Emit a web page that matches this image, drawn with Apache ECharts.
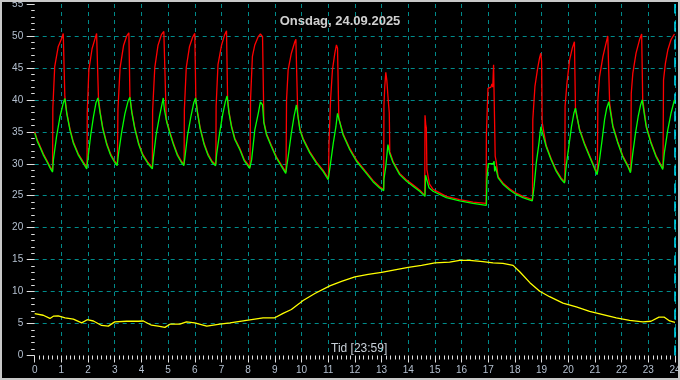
<!DOCTYPE html>
<html>
<head>
<meta charset="utf-8">
<script src="https://cdn.jsdelivr.net/npm/echarts@6/dist/echarts.min.js"></script>
<style>
html,body{margin:0;padding:0;background:#000;}
#chart{width:680px;height:380px;}
</style>
</head>
<body>
<div id="chart"></div>
<script>
const titleText = 'Onsdag, 24.09.2025';
const xName = 'Tid [23:59]';
const yName = '° C';
const nowHour = 23.98;

// Red series [hour, °C]
const redData = [
[0,35.0],[0.1,33.7],[0.2,32.8],[0.32,31.6],[0.45,30.6],[0.57,29.6],[0.67,28.9],
[0.68,38.7],[0.75,45.2],[0.88,48.3],[1.01,49.6],[1.07,50.4],[1.11,50.4],[1.13,40.5],[1.2,38.1],[1.32,35.5],[1.45,33.4],[1.63,31.6],[1.82,30.3],[1.96,29.4],
[1.97,38],[2.03,44.7],[2.15,48],[2.27,49.7],[2.32,50.4],[2.36,50.2],[2.39,40.3],[2.45,38.2],[2.55,35.7],[2.7,33.2],[2.85,31.5],[3.0,30.4],[3.1,29.9],
[3.12,38.5],[3.2,45],[3.33,48.5],[3.45,50],[3.53,50.5],[3.55,50.3],[3.57,40.4],[3.64,38.2],[3.75,35.7],[3.9,33.2],[4.05,31.5],[4.25,30.2],[4.41,29.4],
[4.42,38.3],[4.5,45],[4.62,48.5],[4.75,50.2],[4.84,50.7],[4.9,50.4],[4.93,37],[4.95,36.7],[5.05,35.2],[5.2,33.2],[5.35,31.5],[5.5,30.4],[5.6,29.9],
[5.61,38.5],[5.68,45],[5.8,48.3],[5.92,49.8],[6.0,50.4],[6.02,50.3],[6.04,40.2],[6.1,38.2],[6.2,35.7],[6.35,33.2],[6.5,31.5],[6.65,30.4],[6.79,29.9],
[6.8,39],[6.87,45.5],[7.0,48.5],[7.12,50.2],[7.19,50.8],[7.21,50.5],[7.23,40.2],[7.28,38.2],[7.38,35.9],[7.5,34],[7.69,32.4],[7.85,30.7],[8.07,29.5],
[8.09,40],[8.16,46.8],[8.25,48.6],[8.38,49.9],[8.46,50.3],[8.54,49.9],[8.59,36.6],[8.69,34.7],[8.87,32.9],[9.06,31.1],[9.25,29.8],[9.42,28.7],
[9.44,40],[9.5,44.7],[9.62,47.3],[9.75,49.1],[9.79,49.5],[9.84,49.3],[9.86,37.6],[9.94,35.5],[10.06,34],[10.31,31.9],[10.56,30.3],[10.81,29.0],[11.01,27.7],
[11.03,33],[11.09,40],[11.16,44.7],[11.25,47.3],[11.31,48.6],[11.35,48.1],[11.4,37.1],[11.56,34.7],[11.81,32.4],[12.06,30.6],[12.37,29.0],[12.68,27.4],[12.93,26.4],[13.08,26.0],
[13.09,39],[13.12,42],[13.16,44.3],[13.2,43],[13.25,40],[13.29,38],[13.31,31.9],[13.43,30.4],[13.68,28.5],[13.93,27.5],[14.18,26.7],[14.43,25.9],[14.62,25.1],
[14.63,37.6],[14.66,36],[14.68,35.6],[14.7,29.1],[14.8,26.8],[14.93,26.0],[15.43,24.9],[15.93,24.4],[16.43,24.0],[16.92,23.8],
[16.93,34.5],[16.99,41.8],[17.1,42.0],[17.14,42.5],[17.17,42],[17.2,45.5],[17.24,45.5],[17.26,31.2],[17.3,30.3],[17.37,28.0],[17.55,27.0],[17.8,26.1],[18.05,25.4],[18.3,24.9],[18.66,24.4],
[18.67,36.9],[18.75,42.1],[18.85,44.9],[18.92,46.5],[18.97,47.3],[19.0,46],[19.02,36.5],[19.17,32.9],[19.36,30.8],[19.55,29.0],[19.73,27.8],[19.87,27.2],
[19.88,39],[19.95,42.6],[20.05,46.25],[20.15,48.1],[20.23,49.1],[20.26,49],[20.27,38.4],[20.42,35.5],[20.61,33.2],[20.8,31.3],[20.98,29.5],[21.09,28.5],
[21.11,40],[21.17,43.6],[21.3,46.8],[21.4,48.6],[21.48,50],[21.53,49.8],[21.55,39.5],[21.67,36],[21.86,33.4],[22.04,31.3],[22.23,29.8],[22.34,28.8],
[22.36,41],[22.42,44.2],[22.54,47.3],[22.67,49.4],[22.75,50.3],[22.78,50.1],[22.79,40],[22.92,36],[23.1,33.4],[23.29,31.3],[23.48,29.8],[23.55,29.3],
[23.57,43.1],[23.64,45.7],[23.73,47.8],[23.85,49.4],[23.98,50.3]
];

// Green series [hour, °C]
const greenData = [
[0,34.8],[0.1,33.5],[0.2,32.6],[0.32,31.4],[0.45,30.4],[0.57,29.4],[0.67,28.7],
[0.70,30.6],[0.82,34.3],[0.95,37.4],[1.07,39.5],[1.13,40.2],[1.2,37.9],[1.32,35.3],[1.45,33.2],[1.63,31.4],[1.82,30.1],[1.95,29.2],
[2.0,31],[2.1,34.5],[2.2,37.3],[2.3,39.6],[2.37,40.3],[2.45,38],[2.55,35.5],[2.7,33],[2.85,31.3],[3.0,30.2],[3.09,29.7],
[3.14,31.5],[3.25,34.7],[3.38,37.8],[3.5,39.8],[3.57,40.4],[3.64,38],[3.75,35.5],[3.9,33],[4.05,31.3],[4.25,30],[4.41,29.2],
[4.45,31],[4.55,34.5],[4.68,37.5],[4.78,39.5],[4.82,40.3],[4.86,38.5],[4.95,36.5],[5.05,35],[5.2,33],[5.35,31.3],[5.5,30.2],[5.59,29.7],
[5.63,31],[5.73,34.5],[5.85,37.3],[5.96,39.5],[6.03,40.3],[6.1,38],[6.2,35.5],[6.35,33],[6.5,31.3],[6.65,30.2],[6.78,29.7],
[6.82,31.5],[6.93,34.8],[7.05,37.8],[7.15,39.8],[7.21,40.6],[7.28,38],[7.38,35.7],[7.5,33.8],[7.69,32.2],[7.85,30.5],[8.06,29.3],
[8.13,30.6],[8.25,35.3],[8.38,37.9],[8.46,39.7],[8.54,39.2],[8.59,36.4],[8.69,34.5],[8.87,32.7],[9.06,30.9],[9.25,29.6],[9.41,28.5],
[9.5,31.1],[9.62,34.8],[9.72,37.4],[9.81,39.2],[9.87,37.4],[9.94,35.3],[10.06,33.8],[10.31,31.7],[10.56,30.1],[10.81,28.8],[11.0,27.5],
[11.09,30.1],[11.19,33.2],[11.29,35.8],[11.35,37.9],[11.41,36.9],[11.56,34.5],[11.81,32.2],[12.06,30.4],[12.37,28.8],[12.68,27.2],[12.93,26.2],[13.08,25.8],
[13.09,27.6],[13.16,29.6],[13.24,33.0],[13.3,31.7],[13.43,30.2],[13.68,28.3],[13.93,27.3],[14.18,26.5],[14.43,25.7],[14.63,24.9],
[14.65,28.2],[14.78,26.25],[14.93,25.7],[15.43,24.7],[15.93,24.2],[16.43,23.8],[16.93,23.5],
[16.95,27.6],[17.0,30],[17.18,30],[17.22,30.4],[17.24,28.8],[17.27,29.6],[17.37,27.8],[17.55,26.8],[17.8,25.9],[18.05,25.2],[18.3,24.7],[18.65,24.2],
[18.72,26.5],[18.8,30.1],[18.9,33.2],[18.97,35.8],[19.02,35.5],[19.17,32.7],[19.36,30.6],[19.55,28.8],[19.73,27.6],[19.86,27.0],
[19.92,29.6],[20.02,32.7],[20.12,35.8],[20.21,37.9],[20.27,38.7],[20.42,35.3],[20.61,33.0],[20.8,31.1],[20.98,29.3],[21.08,28.3],
[21.17,30.6],[21.27,33.8],[21.36,36.9],[21.44,38.7],[21.52,39.7],[21.67,35.8],[21.86,33.2],[22.04,31.1],[22.23,29.6],[22.33,28.6],
[22.42,31.7],[22.52,34.8],[22.62,37.4],[22.71,39.2],[22.77,40],[22.92,35.8],[23.1,33.2],[23.29,31.1],[23.48,29.6],[23.54,29.1],
[23.6,31.7],[23.73,35.3],[23.85,37.9],[23.98,40]
];

// Yellow series (outdoor) [hour, °C]
const yellowData = [
[0,6.56],[0.32,6.3],[0.57,5.8],[0.7,6.15],[0.88,6.2],[1.14,5.9],[1.45,5.7],[1.76,5.1],[1.97,5.6],[2.2,5.4],[2.51,4.7],[2.76,4.6],
[3.0,5.26],[3.45,5.36],[3.88,5.36],[4.07,5.4],[4.38,4.74],[4.63,4.6],[4.88,4.4],[5.07,4.9],[5.44,4.9],[5.69,5.26],[6.0,5.1],
[6.45,4.6],[6.94,4.9],[7.32,5.1],[7.94,5.5],[8.56,5.9],[9.0,5.9],[9.31,6.6],[9.62,7.2],[9.94,8.2],[10.06,8.6],[10.5,9.7],
[11.06,10.9],[11.5,11.6],[12.0,12.3],[12.5,12.7],[13.0,13.0],[13.5,13.4],[14.0,13.8],[14.5,14.1],[15.0,14.5],[15.55,14.6],
[15.93,14.9],[16.3,14.9],[16.8,14.7],[17.18,14.5],[17.55,14.4],[17.93,14.1],[18.18,13.1],[18.56,11.4],[18.93,10.05],[19.3,9.2],
[19.8,8.2],[20.3,7.6],[20.8,6.9],[21.3,6.4],[21.8,5.9],[22.3,5.5],[22.8,5.26],[23.1,5.36],[23.4,6.0],[23.6,6.0],[23.8,5.4],[24.0,5.2]
];

const gridColor = '#008b8b';
const labelColor = '#b4c0d0';
const tickColor = '#e0e0e0';
const font = 'Liberation Sans, Arial, sans-serif';

const chart = echarts.init(document.getElementById('chart'), null, {renderer: 'canvas'});
chart.setOption({
  backgroundColor: '#000',
  animation: false,
  title: {
    text: titleText, left: 'center', top: 10,
    textStyle: {color: '#d0d0d0', fontSize: 13, fontWeight: 'bold', fontFamily: font}
  },
  grid: {left: 34.7, right: 5, top: 4, bottom: 24.5, containLabel: false, outerBoundsMode: 'none'},
  xAxis: {
    type: 'value', min: 0, max: 24, interval: 1,
    axisLine: {show: false},
    axisTick: {show: true, length: 7, lineStyle: {color: tickColor, width: 1}},
    minorTick: {show: true, splitNumber: 6, length: 4, lineStyle: {color: tickColor, width: 1}},
    splitLine: {show: true, showMinLine: false, lineStyle: {color: gridColor, type: [4, 4], width: 1}},
    minorSplitLine: {show: false},
    axisLabel: {color: labelColor, fontSize: 10, fontFamily: font, margin: 10, showMaxLabel: true}
  },
  yAxis: {
    type: 'value', min: 0, max: 55, interval: 5,
    offset: 1.5,
    name: yName, nameLocation: 'middle', nameRotate: 90, nameGap: 23,
    nameTextStyle: {color: labelColor, fontSize: 11, fontFamily: font},
    axisLine: {show: false},
    axisTick: {show: true, length: 8, lineStyle: {color: tickColor, width: 1}},
    minorTick: {show: true, splitNumber: 5, length: 3.5, lineStyle: {color: tickColor, width: 1}},
    splitLine: {show: true, showMinLine: false, showMaxLine: false, lineStyle: {color: gridColor, type: [4, 4], width: 1}},
    axisLabel: {color: labelColor, fontSize: 10, fontFamily: font, margin: 10}
  },
  graphic: [
    {type: 'text', left: 359 - 28, top: 343, z: 100,
     style: {text: xName, fill: '#c8d0d8', fontSize: 12, fontFamily: font}},
    {type: 'rect', shape: {x: 1, y: 1, width: 678, height: 378}, z: 100,
     style: {fill: 'none', stroke: '#c8c8c8', lineWidth: 2}}
  ],
  series: [
    {type: 'line', data: yellowData, showSymbol: false, symbol: 'none',
     lineStyle: {color: '#ffff00', width: 1.3}, z: 3},
    {type: 'line', data: redData, showSymbol: false, symbol: 'none',
     lineStyle: {color: '#ff0000', width: 1.3}, z: 4,
     markLine: {silent: true, symbol: 'none', label: {show: false},
       lineStyle: {color: '#00e8ff', type: [10, 8], width: 1.5},
       data: [{xAxis: nowHour}]}},
    {type: 'line', data: greenData, showSymbol: false, symbol: 'none',
     lineStyle: {color: '#00ff00', width: 1.3}, z: 5}
  ]
});
</script>
</body>
</html>
